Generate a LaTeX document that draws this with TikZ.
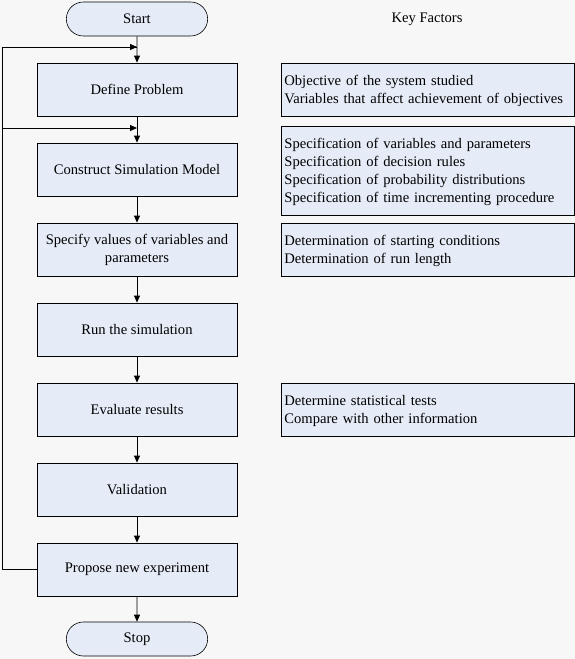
\documentclass[tikz,border=0pt]{standalone}
\usepackage{fontspec}
\setmainfont{Liberation Serif}
\usetikzlibrary{shapes.misc,arrows.meta}
\definecolor{bg}{HTML}{F7F7F7}
\definecolor{boxfill}{HTML}{E6ECF7}
\newcommand{\toppad}{\rule{0pt}{13pt}}
\tikzset{
  stepbox/.style={draw=black, fill=boxfill, line width=0.8pt, minimum width=200pt, minimum height=53pt, inner sep=2pt, align=center, font=\fontsize{14.6}{18}\selectfont},
  term/.style={draw=black, fill=boxfill, line width=0.6pt, rounded rectangle, minimum width=148pt, minimum height=34pt, font=\fontsize{14.6}{18}\selectfont},
  keybox/.style={draw=black, fill=boxfill, line width=0.8pt, anchor=north west, minimum width=293pt, text width=287pt, align=left, inner sep=3pt, font=\fontsize{14.6}{18}\selectfont},
  flow/.style={line width=0.8pt, -{Triangle[length=7pt,width=6pt]}},
  line/.style={line width=0.8pt}
}
\begin{document}
\begin{tikzpicture}[x=1pt,y=-1pt]
\useasboundingbox[fill=bg] (0,0) rectangle (575,659);
\node[term] (start) at (137,19) {Start};
\node[stepbox] (define) at (137,89.5) {Define Problem};
\node[stepbox] (construct) at (137,169.5) {Construct Simulation Model};
\node[stepbox] (specify) at (137,249.5) {Specify values of variables and\\parameters};
\node[stepbox] (run) at (137,329.5) {Run the simulation};
\node[stepbox] (evaluate) at (137,409.5) {Evaluate results};
\node[stepbox] (valid) at (137,489.5) {Validation};
\node[stepbox] (propose) at (137,569.5) {Propose new experiment};
\node[term] (stop) at (137,639) {Stop};
\node[font=\fontsize{14.6}{18}\selectfont] (key) at (427,19) {Key Factors};

\node[keybox, minimum height=53pt] (k1) at (281,63) {\toppad Objective of the system studied\\Variables that affect achievement of objectives};
\node[keybox, minimum height=89pt] (k2) at (281,126) {\toppad Specification of variables and parameters\\Specification of decision rules\\Specification of probability distributions\\Specification of time incrementing procedure};
\node[keybox, minimum height=53pt] (k3) at (281,223) {\toppad Determination of starting conditions\\Determination of run length};
\node[keybox, minimum height=53pt] (k4) at (281,383) {\toppad Determine statistical tests\\Compare with other information};

\draw[flow] (start) -- (define);
\draw[flow] (define) -- (construct);
\draw[flow] (construct) -- (specify);
\draw[flow] (specify) -- (run);
\draw[flow] (run) -- (evaluate);
\draw[flow] (evaluate) -- (valid);
\draw[flow] (valid) -- (propose);
\draw[flow] (propose) -- (stop);

\coordinate (fb1) at (137,47);
\coordinate (fb2) at (137,128);
\coordinate (left) at (2,569.5);
\draw[line] (propose.west) -- (left) |- (fb1);
\draw[flow] (2,47) -- (fb1);
\draw[flow] (2,128) -- (fb2);
\end{tikzpicture}
\end{document}
